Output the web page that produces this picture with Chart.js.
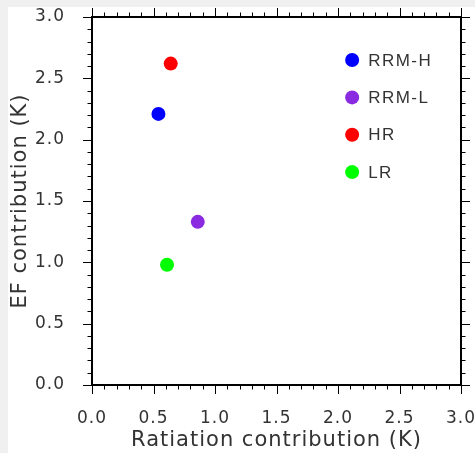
<!DOCTYPE html>
<html>
<head>
<meta charset="utf-8">
<script src="https://cdn.jsdelivr.net/npm/chart.js@4/dist/chart.umd.min.js"></script>
<style>
  html, body { margin: 0; padding: 0; background: #f0f0f0; width: 475px; height: 453px; overflow: hidden; }
  #wrap { position: absolute; left: 8px; top: 7px; width: 467px; height: 446px; background: #ffffff; }
  canvas { display: block; }
</style>
</head>
<body>
<div id="wrap"><canvas id="c" width="467" height="446"></canvas></div>
<script>
// ---- data ----
const seriesNames = ['RRM-H', 'RRM-L', 'HR', 'LR'];
const radiationValues = [0.54, 0.86, 0.64, 0.61];
const efValues = [2.21, 1.33, 2.62, 0.98];
const seriesColors = ['#0000ff', '#8a2be2', '#ff0000', '#00ff00'];
const axisTickLabels = ['0.0', '0.5', '1.0', '1.5', '2.0', '2.5', '3.0'];
const xTitle = 'Ratiation contribution (K)';
const yTitle = 'EF contribution (K)';

const AXIS_MIN = 0, AXIS_MAX = 3, MINOR_STEP = 0.1, MAJOR_EVERY = 5;
const TEXT_COLOR = '#333333';

const spacingPlugin = {
  id: 'spacing',
  beforeUpdate(chart) { chart.ctx.letterSpacing = '1px'; },
  beforeLayout(chart) { chart.ctx.letterSpacing = '1px'; },
  beforeDraw(chart) { chart.ctx.letterSpacing = '1px'; }
};

const framePlugin = {
  id: 'frame',
  afterDraw(chart) {
    const ctx = chart.ctx;
    const a = chart.chartArea;
    const xs = chart.scales.x, ys = chart.scales.y;
    ctx.save();
    ctx.strokeStyle = '#000';
    ctx.lineWidth = 1;
    const n = Math.round((AXIS_MAX - AXIS_MIN) / MINOR_STEP);
    for (let i = 0; i <= n; i++) {
      const v = AXIS_MIN + i * MINOR_STEP;
      const len = (i % MAJOR_EVERY === 0) ? 9 : 4.5;
      const px = Math.round(xs.getPixelForValue(v)) + 0.5;
      const py = Math.round(ys.getPixelForValue(v)) + 0.5;
      ctx.beginPath();
      ctx.moveTo(px, a.bottom); ctx.lineTo(px, a.bottom + len);
      ctx.moveTo(px, a.top); ctx.lineTo(px, a.top - len);
      ctx.moveTo(a.left, py); ctx.lineTo(a.left - len, py);
      ctx.moveTo(a.right, py); ctx.lineTo(a.right + len, py);
      ctx.stroke();
    }
    ctx.lineWidth = 2;
    ctx.strokeRect(a.left, a.top, a.right - a.left, a.bottom - a.top);

    // legend
    ctx.letterSpacing = '1.5px';
    ctx.font = '17px "Liberation Sans", Arial, sans-serif';
    ctx.textAlign = 'left';
    ctx.textBaseline = 'middle';
    const w = a.right - a.left, h = a.bottom - a.top;
    const lx = a.left + w * 0.705;
    chart.data.datasets.forEach((ds, i) => {
      const ly = a.top + h * (0.117 + i * 0.1015);
      ctx.fillStyle = ds.backgroundColor;
      ctx.beginPath();
      ctx.arc(lx, ly, 7, 0, Math.PI * 2);
      ctx.fill();
      ctx.fillStyle = TEXT_COLOR;
      ctx.fillText(ds.label, lx + 16, ly + 1);
    });
    ctx.restore();
  }
};

const datasets = seriesNames.map((name, i) => ({
  label: name,
  data: [{ x: radiationValues[i], y: efValues[i] }],
  backgroundColor: seriesColors[i],
  borderColor: seriesColors[i],
  pointRadius: 7,
  pointHoverRadius: 7,
  borderWidth: 0
}));

const tickFont = { family: '"DejaVu Sans", sans-serif', size: 17 };
const titleFont = { family: '"DejaVu Sans", sans-serif', size: 21 };

new Chart(document.getElementById('c'), {
  type: 'scatter',
  data: { datasets },
  options: {
    responsive: false,
    animation: false,
    devicePixelRatio: 1,
    events: [],
    layout: { padding: { left: 0, top: 10, right: 14, bottom: 0 } },
    plugins: { legend: { display: false }, tooltip: { enabled: false } },
    scales: {
      x: {
        type: 'linear', position: 'bottom',
        min: AXIS_MIN, max: AXIS_MAX,
        grid: { display: false },
        border: { display: false },
        ticks: {
          stepSize: 0.5, padding: 15, color: TEXT_COLOR, font: tickFont, maxRotation: 0,
          callback: (v) => axisTickLabels[Math.round(v / 0.5)]
        },
        title: { display: true, text: xTitle, color: TEXT_COLOR, font: titleFont, padding: { top: 0, bottom: 0 } },
        afterFit(s) { s.height = 68; s.paddingLeft = 0; s.paddingRight = 0; }
      },
      y: {
        type: 'linear', position: 'left',
        min: AXIS_MIN, max: AXIS_MAX,
        grid: { display: false },
        border: { display: false },
        ticks: {
          stepSize: 0.5, padding: 19, color: TEXT_COLOR, font: tickFont,
          callback: (v) => axisTickLabels[Math.round(v / 0.5)]
        },
        title: { display: true, text: yTitle, color: TEXT_COLOR, font: titleFont, padding: { top: 0, bottom: 0 } },
        afterFit(s) { s.width = 84; s.paddingTop = 0; s.paddingBottom = 0; }
      }
    }
  },
  plugins: [spacingPlugin, framePlugin]
});
</script>
</body>
</html>
